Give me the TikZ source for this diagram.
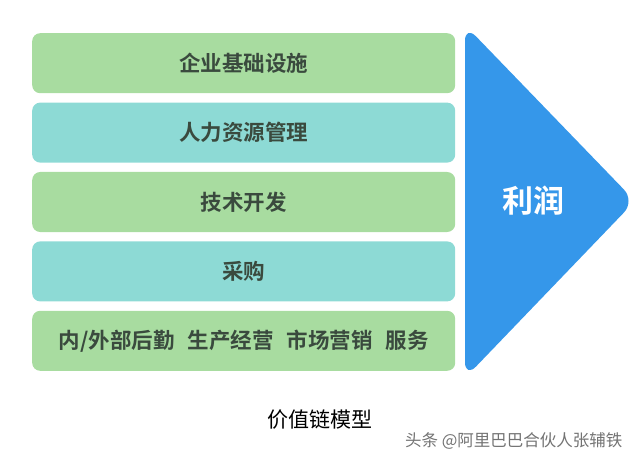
\documentclass[tikz,border=0pt]{standalone}
\usepackage{fontspec}
\setmainfont{Noto Sans CJK SC}
\newfontfamily\cjkbold{Noto Sans CJK SC Bold}
\usepackage{tikz}
\usetikzlibrary{positioning}
\definecolor{barGreen}{HTML}{A8DCA0}
\definecolor{barCyan}{HTML}{8DDAD5}
\definecolor{arrowBlue}{HTML}{3597EA}
\definecolor{txtDark}{HTML}{3A4A3E}
\tikzstyle{bar} = [rectangle, rounded corners=8pt, minimum height=60pt, minimum width=423pt, inner sep=0pt, text=txtDark, font=\cjkbold\fontsize{21.5}{24}\selectfont]
\tikzstyle{gbar} = [bar, fill=barGreen]
\tikzstyle{cbar} = [bar, fill=barCyan]

\begin{document}
\begin{tikzpicture}[x=1pt, y=-1pt, node distance = 9pt]
\useasboundingbox (0,0) rectangle (640,468);

\node(B1)[gbar, anchor=north west] at (32,33) {企业基础设施};
\node(B2)[cbar, below = of B1] {人力资源管理};
\node(B3)[gbar, below = of B2] {技术开发};
\node(B4)[cbar, below = of B3] {采购};
\node(B5)[gbar, below = of B4] {内/外部后勤\hspace{13pt}生产经营\hspace{13pt}市场营销\hspace{13pt}服务};

% profit arrow
\fill[arrowBlue, rounded corners=16pt] (465,25) -- (635,201) -- (465,378) -- cycle;
\node(P)[text=white, font=\cjkbold\fontsize{31}{34}\selectfont] at (533,201) {利润};

\node(T)[font=\fontsize{21}{24}\selectfont] at (320,420) {价值链模型};
\node(W)[text=black!55, font=\fontsize{16.5}{20}\selectfont, anchor=east] at (626,441) {头条 @阿里巴巴合伙人张辅铁};

\end{tikzpicture}
\end{document}
